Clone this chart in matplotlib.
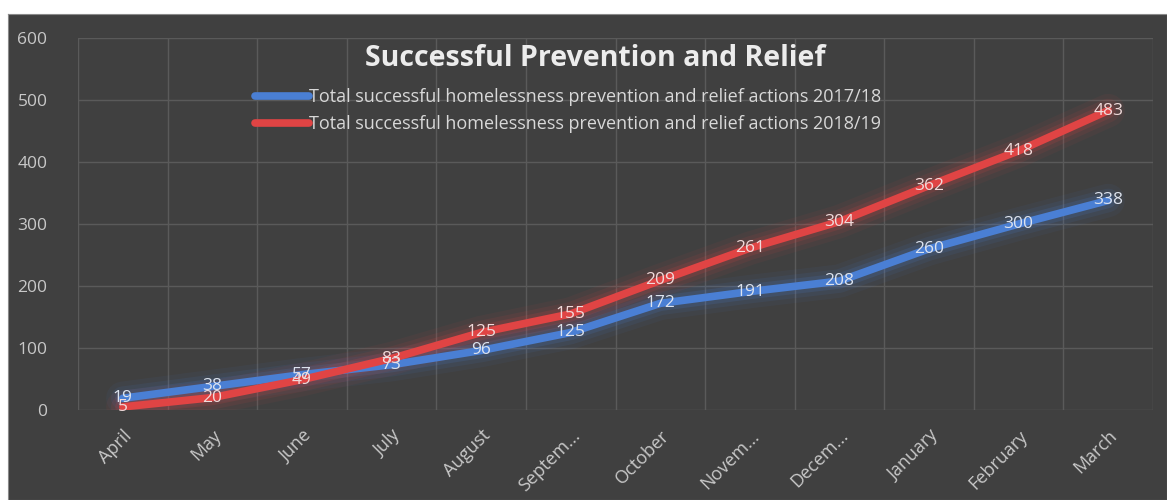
import matplotlib.pyplot as plt
import numpy as np

months = ["April", "May", "June", "July", "August", "Septem...", "October",
          "Novem...", "Decem...", "January", "February", "March"]
actions_1718 = [19, 38, 57, 73, 96, 125, 172, 191, 208, 260, 300, 338]
actions_1819 = [5, 20, 49, 83, 125, 155, 209, 261, 304, 362, 418, 483]

label_1718 = "Total successful homelessness prevention and relief actions 2017/18"
label_1819 = "Total successful homelessness prevention and relief actions 2018/19"

plt.rcParams["font.family"] = ["Open Sans", "DejaVu Sans"]

W, H = 1167, 500
fig = plt.figure(figsize=(W / 100, H / 100), dpi=100)
fig.patch.set_facecolor("white")

# dark chart panel behind the plot
bg = fig.add_axes([8 / W, 0, 1 - 8 / W, 1 - 14 / H], zorder=-1)
bg.set_facecolor("#404040")
bg.set_xticks([])
bg.set_yticks([])
for s in bg.spines.values():
    s.set_color("#8a8a8a")

ax = fig.add_axes([78 / W, 90 / H, (1153 - 78) / W, (410 - 38) / H])
ax.set_facecolor("none")
x = np.arange(len(months))

blue = "#4a7fd4"
red = "#e04444"
for vals, col, lab in [(actions_1718, blue, label_1718), (actions_1819, red, label_1819)]:
    # soft glow under the line
    for w, a in [(24, 0.06), (17, 0.09), (11, 0.15)]:
        ax.plot(x, vals, color=col, lw=w, alpha=a, solid_capstyle="round", zorder=2)
    ax.plot(x, vals, color=col, lw=5.5, label=lab, solid_capstyle="round", zorder=3)

for xi, v in zip(x, actions_1718):
    ax.text(xi, v, str(v), color="#dde3ee", fontsize=12.5, ha="center", va="center", zorder=5)
for xi, v in zip(x, actions_1819):
    ax.text(xi, v, str(v), color="#f0dada", fontsize=12.5, ha="center", va="center", zorder=5)

ax.set_xlim(-0.5, 11.5)
ax.set_ylim(0, 600)
ax.set_yticks(range(0, 601, 100))
ax.set_xticks(x)
ax.set_xticklabels(months, rotation=45, ha="right", rotation_mode="anchor")
ax.set_xticks(np.arange(-0.5, 12, 1), minor=True)
ax.grid(True, which="minor", axis="x", color="#5a5a5a", lw=1)
ax.grid(True, which="major", axis="y", color="#5a5a5a", lw=1)
ax.tick_params(axis="both", which="both", length=0, colors="#c8c8c8", labelsize=13)
ax.tick_params(axis="y", pad=22, labelsize=12.5)
ax.tick_params(axis="x", pad=12)
for s in ax.spines.values():
    s.set_visible(False)

fig.text(595 / W, 1 - 58 / H, "Successful Prevention and Relief", color="#ececec",
         fontsize=20.5, fontweight="bold", ha="center", va="center")
handles, labels = ax.get_legend_handles_labels()
fig.legend(handles, labels, loc="upper left", bbox_to_anchor=(255 / W, 1 - 88 / H),
           frameon=False, fontsize=13, labelcolor="#d8d8d8", handlelength=3.0,
           handletextpad=0.0, labelspacing=0.5, borderpad=0, borderaxespad=0)

fig.savefig("out.png", dpi=100)
